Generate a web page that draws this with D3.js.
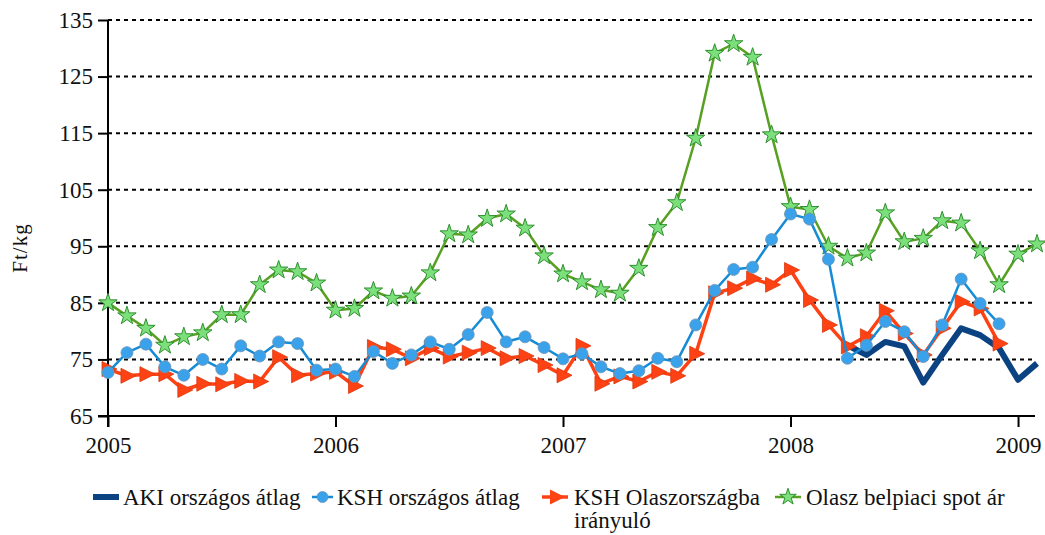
<!DOCTYPE html>
<html>
<head>
<meta charset="utf-8">
<script src="https://cdn.jsdelivr.net/npm/d3@7"></script>
<style>
  body { margin: 0; background: #fff; }
  text { font-family: "Liberation Serif", "DejaVu Serif", serif; fill: #111; }
</style>
</head>
<body>
<div class="canvas"></div>
<script>
// monthly values, Jan 2005 .. Feb 2009
let months = d3.range(50);
let yearTicks = [0, 12, 24, 36, 48];
let yearLabels = ['2005', '2006', '2007', '2008', '2009'];
let yTicks = [65, 75, 85, 95, 105, 115, 125, 135];

let seriesNames = ['AKI országos átlag', 'KSH országos átlag', 'KSH Olaszországba irányuló', 'Olasz belpiaci spot ár'];

let akiValues = [
  null, null, null, null, null, null, null, null, null, null, null, null,
  null, null, null, null, null, null, null, null, null, null, null, null,
  null, null, null, null, null, null, null, null, null, null, null, null,
  null, null, null, 77.5, 75.8, 78.1, 77.3, 70.9, 75.8, 80.5, 79.3, 77.0,
  71.4, 74.3
];
let kshValues = [
  72.7, 76.2, 77.7, 73.7, 72.2, 75.0, 73.3, 77.4, 75.6, 78.1, 77.8, 73.1,
  73.3, 72.0, 76.4, 74.3, 75.8, 78.1, 76.8, 79.4, 83.3, 78.1, 79.0, 77.1,
  75.1, 76.0, 73.7, 72.5, 73.0, 75.2, 74.6, 81.1, 87.2, 90.9, 91.3, 96.2,
  100.7, 99.8, 92.7, 75.2, 77.5, 81.7, 79.9, 75.5, 81.1, 89.2, 84.9, 81.3,
  null, null
];
let kshItalyValues = [
  73.3, 72.1, 72.4, 72.4, 69.6, 70.7, 70.6, 71.2, 71.1, 75.4, 72.2, 72.5,
  72.8, 70.3, 77.2, 76.8, 75.2, 77.0, 75.5, 76.2, 77.0, 75.2, 75.6, 74.0,
  72.2, 77.4, 70.7, 72.0, 71.1, 72.8, 72.1, 76.0, 86.7, 87.6, 89.3, 88.2,
  90.8, 85.5, 81.1, 77.3, 79.1, 83.6, 79.6, 75.8, 80.5, 85.2, 84.0, 77.8,
  null, null
];
let spotValues = [
  85.0, 82.7, 80.5, 77.5, 79.0, 79.7, 82.9, 82.9, 88.2, 90.8, 90.5, 88.5,
  83.7, 84.0, 87.1, 85.8, 86.2, 90.3, 97.2, 97.0, 99.9, 100.7, 98.2, 93.3,
  90.1, 88.7, 87.3, 86.7, 91.1, 98.3, 102.7, 114.1, 129.1, 130.8, 128.4, 114.7,
  102.0, 101.5, 95.0, 92.9, 93.8, 100.9, 95.8, 96.4, 99.5, 99.1, 94.2, 88.2,
  93.6, 95.4
];

const width = 1045, height = 535;
const plot = { left: 108, right: 1035, top: 20, bottom: 416 };

let colors = {
  aki: '#0b4382',
  ksh: '#168bd6',
  italy: '#ff4214',
  spot: '#58a022'
};

let svg = d3.select('.canvas').append('svg')
  .attr('width', width)
  .attr('height', height);

let xScale = d3.scaleLinear().domain([0, 49]).range([plot.left, 1037]);
let yScale = d3.scaleLinear().domain([65, 135]).range([plot.bottom, plot.top]);

// dotted gridlines
svg.append('g').selectAll('line')
  .data(yTicks.slice(1))
  .enter().append('line')
  .attr('x1', plot.left).attr('x2', plot.right)
  .attr('y1', d => yScale(d)).attr('y2', d => yScale(d))
  .attr('stroke', '#000')
  .attr('stroke-width', 2)
  .attr('stroke-dasharray', '4,4');

// y axis
let yAxis = svg.append('g')
  .attr('transform', `translate(${plot.left},0)`)
  .call(d3.axisLeft(yScale).tickValues(yTicks).tickSize(10).tickPadding(5).tickSizeOuter(0));
yAxis.select('.domain').remove();
yAxis.append('line')
  .attr('x1', 0).attr('x2', 0)
  .attr('y1', plot.top).attr('y2', plot.bottom + 11)
  .attr('stroke', '#000').attr('stroke-width', 2);
yAxis.selectAll('.tick line').attr('stroke', '#000').attr('stroke-width', 2);
yAxis.selectAll('.tick text')
  .style('font-family', '"Liberation Serif", serif')
  .style('font-size', '23px')
  .attr('fill', '#111');

// x axis
let xAxis = svg.append('g')
  .attr('transform', `translate(0,${plot.bottom})`)
  .call(d3.axisBottom(xScale).tickValues(yearTicks).tickFormat((d, i) => yearLabels[i]).tickSize(11).tickPadding(10).tickSizeOuter(0));
xAxis.select('.domain').remove();
xAxis.append('line')
  .attr('x1', plot.left - 10).attr('x2', plot.right)
  .attr('y1', 0).attr('y2', 0)
  .attr('stroke', '#000').attr('stroke-width', 2);
xAxis.selectAll('.tick line').attr('stroke', '#000').attr('stroke-width', 2);
xAxis.selectAll('.tick text')
  .style('font-family', '"Liberation Serif", serif')
  .style('font-size', '23px')
  .attr('fill', '#111');

// y label
svg.append('text')
  .attr('transform', 'translate(27,248) rotate(-90)')
  .attr('text-anchor', 'middle')
  .style('font-size', '21px')
  .style('letter-spacing', '1px')
  .text('Ft/kg');

let line = d3.line()
  .defined(d => d != null)
  .x((d, i) => xScale(i))
  .y(d => yScale(d));

let star = d3.symbol().type(d3.symbolStar).size(105);
let triangle = 'M-6,-7.5L9,0L-6,7.5Z';

function drawSeries(values, color, lineWidth) {
  svg.append('path')
    .datum(values)
    .attr('fill', 'none')
    .attr('stroke', color)
    .attr('stroke-width', lineWidth)
    .attr('stroke-linejoin', 'round')
    .attr('d', line);
}

function pointsOf(values) {
  return values.map((v, i) => ({ i: i, v: v })).filter(d => d.v != null);
}

// Olasz belpiaci spot ár
drawSeries(spotValues, colors.spot, 2.5);
svg.append('g').selectAll('path')
  .data(pointsOf(spotValues))
  .enter().append('path')
  .attr('d', star)
  .attr('transform', d => `translate(${xScale(d.i)},${yScale(d.v)})`)
  .attr('fill', '#7be07b')
  .attr('stroke', '#2f8f2f')
  .attr('stroke-width', 1);

// AKI
drawSeries(akiValues, colors.aki, 6);

// KSH Olaszországba irányuló
drawSeries(kshItalyValues, colors.italy, 3.5);
svg.append('g').selectAll('path')
  .data(pointsOf(kshItalyValues))
  .enter().append('path')
  .attr('d', triangle)
  .attr('transform', d => `translate(${xScale(d.i)},${yScale(d.v)})`)
  .attr('fill', colors.italy)
  .attr('stroke', '#d83a10')
  .attr('stroke-width', 0.8);

// KSH országos átlag
drawSeries(kshValues, colors.ksh, 2.5);
svg.append('g').selectAll('circle')
  .data(pointsOf(kshValues))
  .enter().append('circle')
  .attr('cx', d => xScale(d.i))
  .attr('cy', d => yScale(d.v))
  .attr('r', 6)
  .attr('fill', '#3aa2ea')
  .attr('stroke', '#6e93b3')
  .attr('stroke-width', 0.8);

// legend
let legend = svg.append('g').attr('class', 'legend');
let legendY = 497;

legend.append('line')
  .attr('x1', 93).attr('x2', 119).attr('y1', legendY).attr('y2', legendY)
  .attr('stroke', colors.aki).attr('stroke-width', 6);
legend.append('text').attr('x', 123).attr('y', legendY + 8).style('font-size', '23px').text(seriesNames[0]);

legend.append('line')
  .attr('x1', 312).attr('x2', 333).attr('y1', legendY).attr('y2', legendY)
  .attr('stroke', colors.ksh).attr('stroke-width', 2.5);
legend.append('circle')
  .attr('cx', 322.5).attr('cy', legendY).attr('r', 5.5)
  .attr('fill', '#3aa2ea').attr('stroke', '#6e93b3').attr('stroke-width', 0.8);
legend.append('text').attr('x', 337).attr('y', legendY + 8).style('font-size', '23px').text(seriesNames[1]);

legend.append('line')
  .attr('x1', 542).attr('x2', 568).attr('y1', legendY).attr('y2', legendY)
  .attr('stroke', colors.italy).attr('stroke-width', 3.5);
legend.append('path')
  .attr('d', triangle)
  .attr('transform', `translate(556,${legendY})`)
  .attr('fill', colors.italy);
legend.append('text').attr('x', 574).attr('y', legendY + 8).style('font-size', '23px').text('KSH Olaszországba');
legend.append('text').attr('x', 574).attr('y', legendY + 31).style('font-size', '23px').text('irányuló');

legend.append('line')
  .attr('x1', 775).attr('x2', 801).attr('y1', legendY).attr('y2', legendY)
  .attr('stroke', colors.spot).attr('stroke-width', 2.5);
legend.append('path')
  .attr('d', d3.symbol().type(d3.symbolStar).size(85))
  .attr('transform', `translate(788,${legendY})`)
  .attr('fill', '#7be07b').attr('stroke', '#2f8f2f').attr('stroke-width', 1);
legend.append('text').attr('x', 806).attr('y', legendY + 8).style('font-size', '23px').text(seriesNames[3]);
</script>
</body>
</html>
